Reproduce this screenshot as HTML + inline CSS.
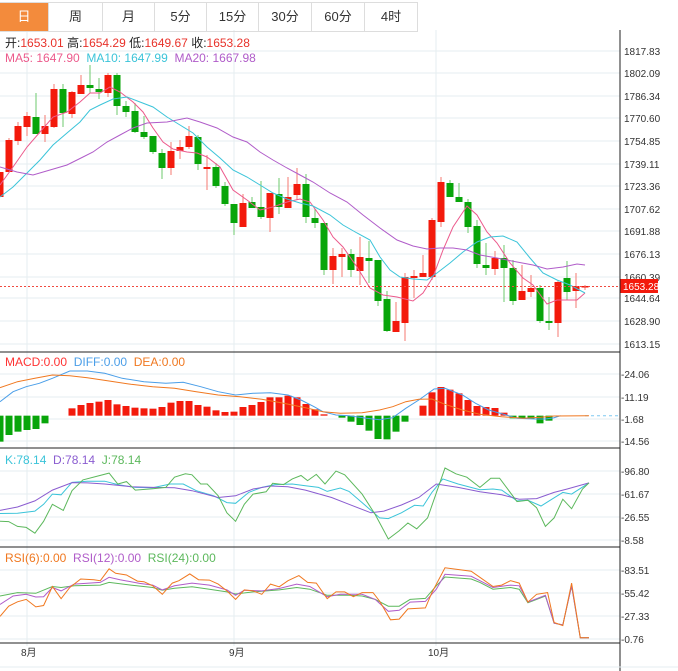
<!DOCTYPE html>
<html><head><meta charset="utf-8">
<style>
html,body{margin:0;padding:0;background:#fff;width:678px;height:671px;overflow:hidden;font-family:"Liberation Sans","Noto Sans CJK SC",sans-serif}
.tabs{position:absolute;left:0;top:2px;height:28px;display:flex;border-top:1px solid #ddd;border-bottom:1px solid #ddd}
.tabs div{height:28px;line-height:28px;text-align:center;font-size:13px;color:#333;border-right:1px solid #ddd;box-sizing:border-box}
.tabs .on{background:#f38b3c;color:#fff}
svg{position:absolute;left:0;top:0}
</style></head><body>
<svg id="s" width="678" height="671" xmlns="http://www.w3.org/2000/svg"></svg>
<div class="tabs">
<div class="on" style="width:49px">日</div><div style="width:54px">周</div><div style="width:52px">月</div><div style="width:52px">5分</div><div style="width:52px">15分</div><div style="width:53px">30分</div><div style="width:53px">60分</div><div style="width:53px">4时</div>
</div>
<script>
var s=document.getElementById('s'),h='';
function L(x1,y1,x2,y2,c,w,d){h+='<line x1="'+x1+'" y1="'+y1+'" x2="'+x2+'" y2="'+y2+'" stroke="'+c+'" stroke-width="'+(w||1)+'"'+(d?' stroke-dasharray="'+d+'"':'')+'/>';}
function T(x,y,t,c,sz){h+='<text x="'+x+'" y="'+y+'" fill="'+c+'" font-size="'+(sz||10)+'">'+t+'</text>';}
function P(pts,c,fx,fy){var a=[];for(var i=0;i<pts.length;i+=2)a.push((fx?fx(pts[i]):pts[i]).toFixed(1)+','+(fy?fy(pts[i+1]):pts[i+1]).toFixed(1));h+='<polyline points="'+a.join(' ')+'" fill="none" stroke="'+c+'" stroke-width="1"/>';}
var G='#e6edf1';
// vertical grid
[27,234,436].forEach(function(x){L(x,30,x,646,G);});
// main ticks
var mt=[[51,'1817.83'],[73,'1802.09'],[96,'1786.34'],[118,'1770.60'],[141,'1754.85'],[164,'1739.11'],[186,'1723.36'],[209,'1707.62'],[231,'1691.88'],[254,'1676.13'],[277,'1660.39'],[298,'1644.64'],[321,'1628.90'],[344,'1613.15']];
mt.forEach(function(t){L(0,t[0],620,t[0],G);T(624,t[0]+4,t[1],'#333');});
var mm=[[374,'24.06'],[397,'11.19'],[419,'-1.68'],[441,'-14.56']];
mm.forEach(function(t){L(0,t[0],620,t[0],G);T(621,t[0]+4,t[1].charAt(0)=='-'?t[1]:'-'+t[1],'#333');});
var kk=[[471,'96.80'],[494,'61.67'],[517,'26.55'],[540,'-8.58']];
kk.forEach(function(t){L(0,t[0],620,t[0],G);T(621,t[0]+4,t[1].charAt(0)=='-'?t[1]:'-'+t[1],'#333');});
var rr=[[570,'83.51'],[593,'55.42'],[616,'27.33'],[639,'-0.76']];
rr.forEach(function(t){L(0,t[0],620,t[0],G);T(621,t[0]+4,t[1].charAt(0)=='-'?t[1]:'-'+t[1],'#333');});
// candles
var C=[['r',172,197,172,197],['r',140,172,138,172],['r',126,141,122,145],['r',116,127,112,136],['g',117,134,93,134],['r',126,134,115,142],['r',89,127,84,128],['g',89,113,84,127],['r',92,114,91,118],['r',85,94,75,94],['g',85,88,65,93],['g',89,92,78,99],['r',75,93,73,97],['g',75,106,73,115],['g',106,112,101,117],['g',111,132,103,133],['g',132,137,116,139],['g',136,152,136,154],['g',153,168,149,179],['r',151,168,142,175],['r',147,151,140,159],['r',136,147,126,149],['g',137,164,135,170],['r',167,169,155,190],['g',167,186,163,188],['g',186,204,182,206],['g',204,223,204,235],['r',203,227,194,227],['g',202,208,197,208],['g',207,217,181,219],['r',193,218,193,232],['g',194,207,178,214],['r',197,208,177,208],['r',184,195,168,200],['g',184,217,174,223],['g',218,223,209,228],['g',223,270,223,275],['r',256,270,248,284],['r',254,257,248,277],['g',254,270,249,277],['r',257,271,237,285],['g',258,261,241,283],['g',260,301,260,306],['g',299,331,291,332],['r',321,332,302,332],['r',277,323,273,341],['r',276,278,270,298],['r',273,277,255,277],['r',220,277,218,280],['r',182,222,177,227],['g',183,197,180,197],['g',197,202,183,202],['g',202,227,199,233],['g',226,264,220,268],['g',265,268,243,275],['r',258,269,251,275],['g',258,268,245,302],['g',268,301,260,305],['r',291,300,265,300],['r',288,292,275,297],['g',288,321,285,323],['g',321,323,297,330],['r',282,323,280,337],['g',278,292,261,300],['r',286,291,273,308],['r',286,287,285,290]];
C.forEach(function(c,i){var x=9*i,col=c[0]=='r'?'#f31a0c':'#08a50a',wc=c[0]=='r'?'#f57a72':'#6cc96e';
L(x,c[3],x,c[4],wc);h+='<rect x="'+(x-3.5)+'" y="'+c[1]+'" width="7" height="'+Math.max(1.5,c[2]-c[1])+'" fill="'+col+'"/>';});
// MAs
P([0,185,13,167,27,147,40,132,53,117,67,112,80,102,90,93,100,93,110,87,120,92,133,102,143,112,153,128,163,142,173,149,187,152,197,153,207,157,220,167,233,190,247,200,260,210,273,207,287,202,300,199,310,202,323,220,333,237,343,247,357,267,370,288,383,295,397,297,413,301,423,293,433,277,443,250,453,227,467,206,477,215,487,232,497,243,510,263,523,278,533,285,547,304,557,300,577,300,585,293],'#ec5a8c');
P([0,197,13,187,27,173,40,160,53,145,67,133,80,122,90,110,100,105,113,99,127,97,140,102,153,107,167,117,180,125,193,133,207,147,220,158,233,170,247,177,260,185,273,193,287,199,300,203,313,206,330,215,343,225,357,233,370,240,380,257,390,270,400,277,413,279,427,280,437,273,450,263,463,252,477,242,490,237,503,236,517,242,530,258,543,273,557,280,570,285,585,293],'#3bc4d9');
P([0,167,17,172,33,175,50,170,67,165,83,157,93,152,107,142,120,135,133,128,147,123,167,122,187,118,200,122,217,128,233,137,247,142,260,152,273,160,287,168,300,175,313,182,330,193,347,202,363,215,380,228,397,240,413,246,427,249,440,248,453,248,467,250,480,255,497,258,517,262,533,265,547,269,563,267,577,264,585,265],'#b05cc9');
// last price
L(0,286.5,620,286.5,'#f04a40',1,'2,2');
h+='<rect x="620" y="279" width="38" height="14" fill="#f31a0c"/>';T(623,290,'1653.28','#fff',10);
// MACD
var fy4=function(z){return 345+z/3},fx=function(z){return z/2.292};
var B=[290,270,260,255,252,235,213,211,190,180,174,170,165,178,183,188,190,191,186,173,168,168,180,185,196,201,200,186,180,171,157,157,152,157,177,193,208,213,218,230,240,257,282,283,260,230,212,182,142,126,134,145,165,183,186,189,203,220,220,222,235,227];
B.forEach(function(v,i){var y=fy4(v),z=fy4(212);if(Math.abs(y-z)<0.5)return;var x=9*i;h+='<rect x="'+(x-3.5)+'" y="'+Math.min(y,z)+'" width="7" height="'+Math.abs(y-z)+'" fill="'+(y<z?'#f31a0c':'#08a50a')+'"/>';});
L(585,415.7,620,415.7,'#7ec8f0',1,'3,3');
P([0,170,30,140,60,125,90,115,120,100,160,78,200,78,240,85,280,100,330,110,380,115,420,112,460,125,500,140,540,150,580,145,620,143,660,150,690,165,720,185,740,200,770,210,800,212,840,220,870,224,900,218,930,190,960,165,995,132,1020,130,1060,150,1090,175,1120,195,1160,210,1185,220,1225,222,1250,222,1270,218,1285,212],'#4a9ee8',fx,fy4);
P([0,128,40,110,80,100,120,90,160,92,200,98,250,108,300,118,350,125,400,130,450,140,500,150,550,155,600,163,650,175,700,188,740,200,780,205,830,203,870,195,900,185,930,170,960,163,990,162,1020,178,1060,195,1100,208,1150,215,1200,220,1240,217,1270,213,1350,212],'#f07820',fx,fy4);
// KDJ & RSI
var fy5=function(z){return 450+z/2.945};
P([0,187,40,186,80,180,100,160,120,130,140,132,165,95,200,92,240,92,270,102,310,110,350,111,390,100,420,100,450,120,490,135,520,155,540,157,570,125,600,110,630,102,670,100,700,105,730,110,750,122,780,112,800,122,830,155,870,200,890,202,920,185,950,163,970,165,990,125,1015,85,1050,100,1100,117,1130,115,1150,118,1185,150,1210,148,1240,165,1265,145,1290,125,1310,130,1350,97],'#3bc4d9',fx,fy5);
P([0,178,40,168,80,150,120,118,165,96,200,97,240,100,300,108,350,110,400,111,440,120,500,140,540,135,580,115,620,106,660,108,700,118,760,140,800,160,850,185,880,180,920,162,960,140,1000,100,1050,110,1100,123,1150,132,1190,145,1230,143,1270,125,1300,115,1350,97],'#8a5cd0',fx,fy5);
P([0,210,20,211,40,225,60,228,80,245,100,210,120,160,145,178,165,120,190,88,220,78,250,68,270,100,290,93,310,118,350,114,380,110,400,80,425,70,440,73,460,100,475,100,500,135,520,185,540,210,560,160,580,130,610,123,625,98,650,102,670,85,690,75,705,90,725,72,745,100,770,62,790,73,830,130,860,190,890,262,915,238,935,215,955,232,980,200,1020,53,1045,70,1070,80,1100,110,1125,83,1145,83,1185,152,1210,148,1230,170,1250,225,1270,200,1290,145,1310,173,1335,115,1350,97],'#5cb85c',fx,fy5);
P([0,430,40,420,82,422,120,402,140,405,170,400,230,398,250,390,300,398,350,405,372,413,400,407,440,403,480,410,520,418,540,424,580,418,640,412,680,405,710,410,750,428,800,428,830,430,860,440,890,460,915,460,940,440,975,437,1000,400,1020,374,1080,380,1100,390,1130,410,1170,405,1190,410,1210,450,1250,430,1270,510,1290,515,1310,400,1330,553,1350,553],'#5cb85c',fx,fy5);
P([0,455,30,430,60,425,82,433,100,432,120,405,140,415,170,395,230,390,250,375,275,382,320,393,350,398,372,412,400,400,440,392,480,398,520,412,540,428,560,413,600,415,640,408,680,395,710,402,750,432,780,425,830,425,860,440,890,475,915,472,940,448,975,446,1000,410,1020,366,1080,372,1100,385,1130,405,1170,398,1190,400,1210,448,1250,428,1270,510,1290,515,1310,400,1330,553,1350,553],'#b05cc9',fx,fy5);
P([0,490,20,460,40,447,60,440,82,462,100,458,120,402,140,438,160,405,185,380,215,382,230,385,250,350,265,363,290,368,315,386,330,388,350,400,372,425,395,392,410,385,435,365,455,382,480,383,500,395,520,415,540,440,560,412,580,415,600,425,620,395,640,403,660,385,685,370,705,390,725,392,750,438,770,418,790,418,810,432,830,420,855,420,870,445,895,500,915,498,935,468,975,465,990,420,1020,347,1050,352,1080,357,1100,375,1130,402,1150,398,1170,385,1190,392,1210,448,1230,425,1255,420,1270,508,1290,517,1310,392,1330,553,1350,553],'#f07820',fx,fy5);
// separators & axis
L(0,352,620,352,'#222');L(0,448,620,448,'#222');L(0,547,620,547,'#222');L(0,643,620,643,'#222');
L(620,30,620,671,'#222');L(0,667,678,667,'#e6edf1');
// x labels
T(21,656,'8月','#333',10);T(229,656,'9月','#333',10);T(428,656,'10月','#333',10);
// legends
h+='<text x="5" y="47" font-size="12"><tspan fill="#222">开:</tspan><tspan fill="#e8322a">1653.01</tspan><tspan fill="#222">  高:</tspan><tspan fill="#e8322a">1654.29</tspan><tspan fill="#222">  低:</tspan><tspan fill="#e8322a">1649.67</tspan><tspan fill="#222">  收:</tspan><tspan fill="#e8322a">1653.28</tspan></text>';
h+='<text x="5" y="62" font-size="12" xml:space="preserve"><tspan fill="#ec5a8c">MA5: 1647.90  </tspan><tspan fill="#3bc4d9">MA10: 1647.99  </tspan><tspan fill="#b05cc9">MA20: 1667.98</tspan></text>';
h+='<text x="5" y="366" font-size="12" xml:space="preserve"><tspan fill="#f33">MACD:0.00  </tspan><tspan fill="#4a9ee8">DIFF:0.00  </tspan><tspan fill="#f07820">DEA:0.00</tspan></text>';
h+='<text x="5" y="464" font-size="12" xml:space="preserve"><tspan fill="#3bc4d9">K:78.14  </tspan><tspan fill="#8a5cd0">D:78.14  </tspan><tspan fill="#5cb85c">J:78.14</tspan></text>';
h+='<text x="5" y="562" font-size="12" xml:space="preserve"><tspan fill="#f07820">RSI(6):0.00  </tspan><tspan fill="#b05cc9">RSI(12):0.00  </tspan><tspan fill="#5cb85c">RSI(24):0.00</tspan></text>';
s.innerHTML=h;
</script>
</body></html>
